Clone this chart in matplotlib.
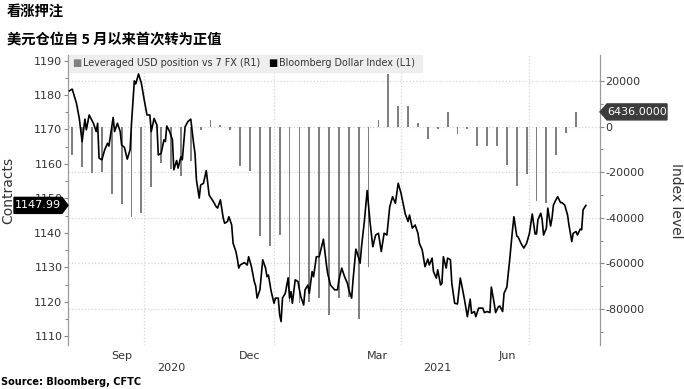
import matplotlib
matplotlib.use("Agg")
import matplotlib.pyplot as plt
import matplotlib.dates as mdates
import matplotlib.transforms as mtransforms
from matplotlib.patches import Polygon, Rectangle
import pandas as pd

plt.rcParams['font.family'] = ['DejaVu Sans']
plt.rcParams['axes.unicode_minus'] = False

title_1 = '看涨押注'
title_2 = '美元仓位自 5 月以来首次转为正值'
source = 'Source: Bloomberg, CFTC'
bar_label = 'Leveraged USD position vs 7 FX (R1)'
line_label = 'Bloomberg Dollar Index (L1)'

# weekly CFTC leveraged USD position (right axis)
position_dates = pd.date_range('2020-08-11', periods=52, freq='7D')
position = [-12300, -17800, -20300, -20000, -29400, -34000, -39800, -37700, -26500, -16000,
            -18800, -21700, -14900, -1600, 2800, 700, -1600, -17400, -19300, -47800,
            -52300, -47500, -77000, -77300, -77000, -75400, -82800, -75400, -74700, -84500,
            -61600, 2900, 23200, 9000, 9000, 1500, -5500, -1100, 6200, -3200,
            -1100, -8700, -8400, -8500, -16700, -26100, -20600, -32600, -33300, -12300,
            -2600, 6436]

# Bloomberg Dollar Index (left axis)
dollar_dates = [
    '2020-08-09', '2020-08-11', '2020-08-14', '2020-08-16', '2020-08-18', '2020-08-20', '2020-08-21',
    '2020-08-23', '2020-08-26', '2020-08-28', '2020-08-29', '2020-08-30', '2020-09-01', '2020-09-03',
    '2020-09-05', '2020-09-06', '2020-09-09', '2020-09-10', '2020-09-12', '2020-09-14', '2020-09-15',
    '2020-09-17', '2020-09-19', '2020-09-21', '2020-09-22', '2020-09-24', '2020-09-25', '2020-09-27',
    '2020-09-29', '2020-10-01', '2020-10-03', '2020-10-05', '2020-10-06', '2020-10-08', '2020-10-10',
    '2020-10-11', '2020-10-13', '2020-10-15', '2020-10-16', '2020-10-17', '2020-10-19', '2020-10-21',
    '2020-10-22', '2020-10-24', '2020-10-25', '2020-10-27', '2020-10-28', '2020-10-30', '2020-11-01',
    '2020-11-03', '2020-11-05', '2020-11-06', '2020-11-07', '2020-11-09', '2020-11-10', '2020-11-12',
    '2020-11-14', '2020-11-16', '2020-11-19', '2020-11-21', '2020-11-22', '2020-11-24', '2020-11-26',
    '2020-11-27', '2020-11-29', '2020-11-30', '2020-12-02', '2020-12-03', '2020-12-05', '2020-12-06',
    '2020-12-07', '2020-12-08', '2020-12-11', '2020-12-13', '2020-12-14', '2020-12-16', '2020-12-18',
    '2020-12-19', '2020-12-20', '2020-12-22', '2020-12-24', '2020-12-26', '2020-12-27', '2020-12-28',
    '2020-12-30', '2021-01-01', '2021-01-02', '2021-01-04', '2021-01-05', '2021-01-06', '2021-01-07',
    '2021-01-09', '2021-01-11', '2021-01-12', '2021-01-13', '2021-01-14', '2021-01-16', '2021-01-18',
    '2021-01-19', '2021-01-20', '2021-01-22', '2021-01-23', '2021-01-25', '2021-01-26', '2021-01-28',
    '2021-01-29', '2021-01-31', '2021-02-02', '2021-02-05', '2021-02-07', '2021-02-08', '2021-02-10',
    '2021-02-11', '2021-02-13', '2021-02-15', '2021-02-16', '2021-02-18', '2021-02-20', '2021-02-22',
    '2021-02-23', '2021-02-25', '2021-02-26', '2021-02-28', '2021-03-01', '2021-03-03', '2021-03-04',
    '2021-03-06', '2021-03-08', '2021-03-10', '2021-03-12', '2021-03-14', '2021-03-16', '2021-03-18',
    '2021-03-20', '2021-03-22', '2021-03-24', '2021-03-26', '2021-03-28', '2021-03-30', '2021-04-01',
    '2021-04-04', '2021-04-06', '2021-04-07', '2021-04-09', '2021-04-11', '2021-04-13', '2021-04-14',
    '2021-04-16', '2021-04-18', '2021-04-20', '2021-04-21', '2021-04-23', '2021-04-24', '2021-04-26',
    '2021-04-27', '2021-04-29', '2021-04-30', '2021-05-01', '2021-05-03', '2021-05-04', '2021-05-06',
    '2021-05-07', '2021-05-09', '2021-05-11', '2021-05-13', '2021-05-14', '2021-05-16', '2021-05-18',
    '2021-05-20', '2021-05-21', '2021-05-23', '2021-05-24', '2021-05-26', '2021-05-29', '2021-05-30',
    '2021-06-01', '2021-06-03', '2021-06-04', '2021-06-06', '2021-06-07', '2021-06-09', '2021-06-10',
    '2021-06-12', '2021-06-13', '2021-06-15', '2021-06-17', '2021-06-19', '2021-06-20', '2021-06-22',
    '2021-06-23', '2021-06-25', '2021-06-27', '2021-06-29', '2021-07-01', '2021-07-03', '2021-07-05',
    '2021-07-06', '2021-07-07', '2021-07-09', '2021-07-10', '2021-07-11', '2021-07-13', '2021-07-14',
    '2021-07-16', '2021-07-17', '2021-07-18', '2021-07-20', '2021-07-21', '2021-07-23', '2021-07-24',
    '2021-07-26', '2021-07-28', '2021-07-29', '2021-07-31', '2021-08-01', '2021-08-03', '2021-08-04',
    '2021-08-06', '2021-08-07', '2021-08-08', '2021-08-10']
dollar_index = [
    1181.2, 1181.7, 1177.6, 1173.2, 1166.5, 1173.0, 1169.9,
    1174.2, 1171.8, 1169.4, 1171.8, 1161.7, 1161.2, 1164.1,
    1166.0, 1165.2, 1173.5, 1169.4, 1171.8, 1169.4, 1165.5,
    1164.8, 1161.4, 1164.1, 1171.8, 1184.1, 1183.2, 1186.1,
    1183.4, 1178.6, 1174.2, 1174.2, 1169.4, 1173.2, 1171.3,
    1162.6, 1163.1, 1167.0, 1166.5, 1171.0, 1169.4, 1167.0,
    1158.3, 1161.0, 1158.8, 1162.1, 1161.2, 1170.8, 1172.3,
    1173.0, 1166.0, 1163.1, 1155.4, 1150.1, 1153.9, 1154.4,
    1158.1, 1151.0, 1149.1, 1147.6, 1147.2, 1149.6, 1144.3,
    1142.8, 1143.3, 1144.7, 1142.3, 1137.0, 1134.6, 1132.5,
    1129.8, 1130.7, 1131.4, 1130.7, 1133.1, 1130.2, 1125.9,
    1124.6, 1121.1, 1123.5, 1132.2, 1129.8, 1127.3, 1127.8,
    1123.0, 1119.6, 1121.1, 1121.1, 1116.2, 1114.3, 1121.1,
    1122.5, 1127.0, 1121.1, 1123.0, 1119.6, 1126.4, 1125.9,
    1123.5, 1121.5, 1119.1, 1123.5, 1124.9, 1122.5, 1128.8,
    1127.3, 1133.1, 1133.1, 1138.2, 1131.2, 1128.3, 1124.9,
    1124.4, 1123.5, 1123.5, 1126.4, 1129.8, 1127.3, 1125.4,
    1123.5, 1121.1, 1126.4, 1135.3, 1134.1, 1131.2, 1136.0,
    1143.3, 1152.3, 1143.3, 1136.0, 1139.4, 1139.9, 1134.6,
    1139.9, 1139.4, 1147.6, 1150.5, 1148.6, 1154.4, 1151.5,
    1145.5, 1143.3, 1145.2, 1141.4, 1142.3, 1139.9, 1137.0,
    1135.1, 1130.2, 1132.4, 1130.7, 1132.7, 1128.8, 1126.9,
    1129.3, 1124.9, 1125.4, 1133.1, 1129.8, 1132.7, 1132.2,
    1125.4, 1119.6, 1119.4, 1126.9, 1124.9, 1120.6, 1115.7,
    1120.8, 1116.7, 1117.2, 1115.7, 1118.2, 1118.2, 1116.9,
    1117.2, 1116.9, 1124.3, 1119.6, 1116.9, 1118.6, 1118.8,
    1117.2, 1122.5, 1124.3, 1132.2, 1140.9, 1144.7, 1139.1,
    1138.8, 1137.0, 1135.6, 1137.0, 1139.9, 1145.5, 1139.7,
    1139.7, 1143.8, 1145.7, 1143.8, 1139.4, 1141.4, 1147.2,
    1142.0, 1144.3, 1148.1, 1149.8, 1150.5, 1148.8, 1148.8,
    1148.1, 1145.2, 1142.3, 1137.5, 1139.9, 1140.4, 1139.4,
    1141.1, 1140.9, 1146.7, 1147.99]

month_ticks = ['2020-09-15', '2020-12-15', '2021-03-15', '2021-06-15']
month_labels = ['Sep', 'Dec', 'Mar', 'Jun']
quarter_lines = ['2020-10-01', '2021-01-01', '2021-04-01', '2021-07-01']
year_pos = ['2020-10-20', '2021-04-27']
year_labels = ['2020', '2021']

dollar_dates = pd.to_datetime(dollar_dates)
txt = '#333333'
grid_c = '#d4d4d4'

fig = plt.figure(figsize=(6.84, 3.89), dpi=100)
ax = fig.add_axes([68/684, 1 - 345/389, 532/684, 290/389])
ax2 = ax.twinx()
ax.set_zorder(ax2.get_zorder() + 1)
ax.patch.set_visible(False)

# bars on the right axis
ax2.bar(position_dates, position, width=1.3, color='#808080', zorder=2)
ax2.set_ylim(-95800, 31400)
ax2.set_yticks([20000, 0, -20000, -40000, -60000, -80000])
ax2.set_yticks([10000, -10000, -30000, -50000, -70000, -90000], minor=True)
ax2.grid(axis='y', color=grid_c, linestyle=':', linewidth=0.9)
ax2.tick_params(axis='y', which='major', length=3, width=0.8, color='#888888', labelsize=8, labelcolor=txt, pad=1)
ax2.tick_params(axis='y', which='minor', length=2, width=0.8, color='#888888')

# line on the left axis
ax.plot(dollar_dates, dollar_index, color='black', linewidth=1.2, zorder=3)
ax.set_ylim(1107.5, 1191.6)
ax.set_yticks(range(1110, 1191, 10))
ax.set_yticks(range(1115, 1190, 10), minor=True)
ax.tick_params(axis='y', which='major', length=3, width=0.8, color='#888888', labelsize=8, labelcolor=txt, pad=1)
ax.tick_params(axis='y', which='minor', length=2, width=0.8, color='#888888')

ax.set_xlim(pd.Timestamp('2020-08-08'), pd.Timestamp('2021-08-20'))
ax.set_xticks(pd.to_datetime(month_ticks))
ax.set_xticklabels(month_labels)
ax.tick_params(axis='x', length=0, labelsize=8, labelcolor=txt, pad=4)
for q in quarter_lines:
    ax.axvline(pd.Timestamp(q), color=grid_c, linestyle=':', linewidth=0.9, zorder=0)
for p, lab in zip(year_pos, year_labels):
    ax.text(mdates.date2num(pd.Timestamp(p)), -0.08, lab, transform=ax.get_xaxis_transform(),
            ha='center', va='center', fontsize=8, color=txt)

for a in (ax, ax2):
    a.spines['top'].set_visible(False)
    a.spines['bottom'].set_visible(False)
    a.spines['left'].set_color('#999999')
    a.spines['right'].set_color('#999999')

# legend band
ax.add_patch(Rectangle((0, 1 - 17/290), 354/532, 17/290, transform=ax.transAxes,
                       color='#eeeeee', zorder=1, clip_on=False))
ly = 1 - 8/290
ax.text(4/532, ly, '■', transform=ax.transAxes, fontsize=7, color='#808080', va='center', zorder=5)
ax.text(15/532, ly, bar_label, transform=ax.transAxes, fontsize=6.9, color=txt, va='center', zorder=5)
ax.text(200/532, ly, '■', transform=ax.transAxes, fontsize=7, color='black', va='center', zorder=5)
ax.text(211/532, ly, line_label, transform=ax.transAxes, fontsize=6.9, color=txt, va='center', zorder=5)

# value tags
base_l = mtransforms.blended_transform_factory(ax.transAxes, ax.transData)
tr_l = fig.dpi_scale_trans + mtransforms.ScaledTranslation(0, dollar_index[-1], base_l)
ax.add_patch(Polygon([(0, 0), (-0.06, 0.08), (-0.54, 0.08), (-0.54, -0.08), (-0.06, -0.08)],
                     closed=True, transform=tr_l, color='black', clip_on=False, zorder=10))
ax.text(-0.30, 0, f'{dollar_index[-1]:.2f}', transform=tr_l, color='white', fontsize=8,
        ha='center', va='center', zorder=11, clip_on=False)

base_r = mtransforms.blended_transform_factory(ax2.transAxes, ax2.transData)
tr_r = fig.dpi_scale_trans + mtransforms.ScaledTranslation(1, position[-1], base_r)
ax.add_patch(Polygon([(0, 0), (0.07, 0.08), (0.67, 0.08), (0.67, -0.08), (0.07, -0.08)],
                     closed=True, transform=tr_r, color='#3c3c3c', clip_on=False, zorder=10))
ax.text(0.37, 0, f'{position[-1]:.4f}', transform=tr_r, color='white', fontsize=8,
        ha='center', va='center', zorder=11, clip_on=False)

fig.text(8/684, 0.51, 'Contracts', rotation=90, ha='center', va='center', fontsize=10, color=txt)
fig.text(676/684, 0.485, 'Index level', rotation=-90, ha='center', va='center', fontsize=10, color=txt)

cjk = ['Noto Sans CJK SC', 'DejaVu Sans']
fig.text(7/684, 1 - 12/389, title_1, family=cjk, fontweight='bold', fontsize=10.3, va='center')
fig.text(7/684, 1 - 40/389, title_2, family=cjk, fontweight='bold', fontsize=10.3, va='center')
fig.text(1/684, 1 - 382/389, source, fontweight='bold', fontsize=7, va='center')

fig.savefig('out.png', dpi=100)
